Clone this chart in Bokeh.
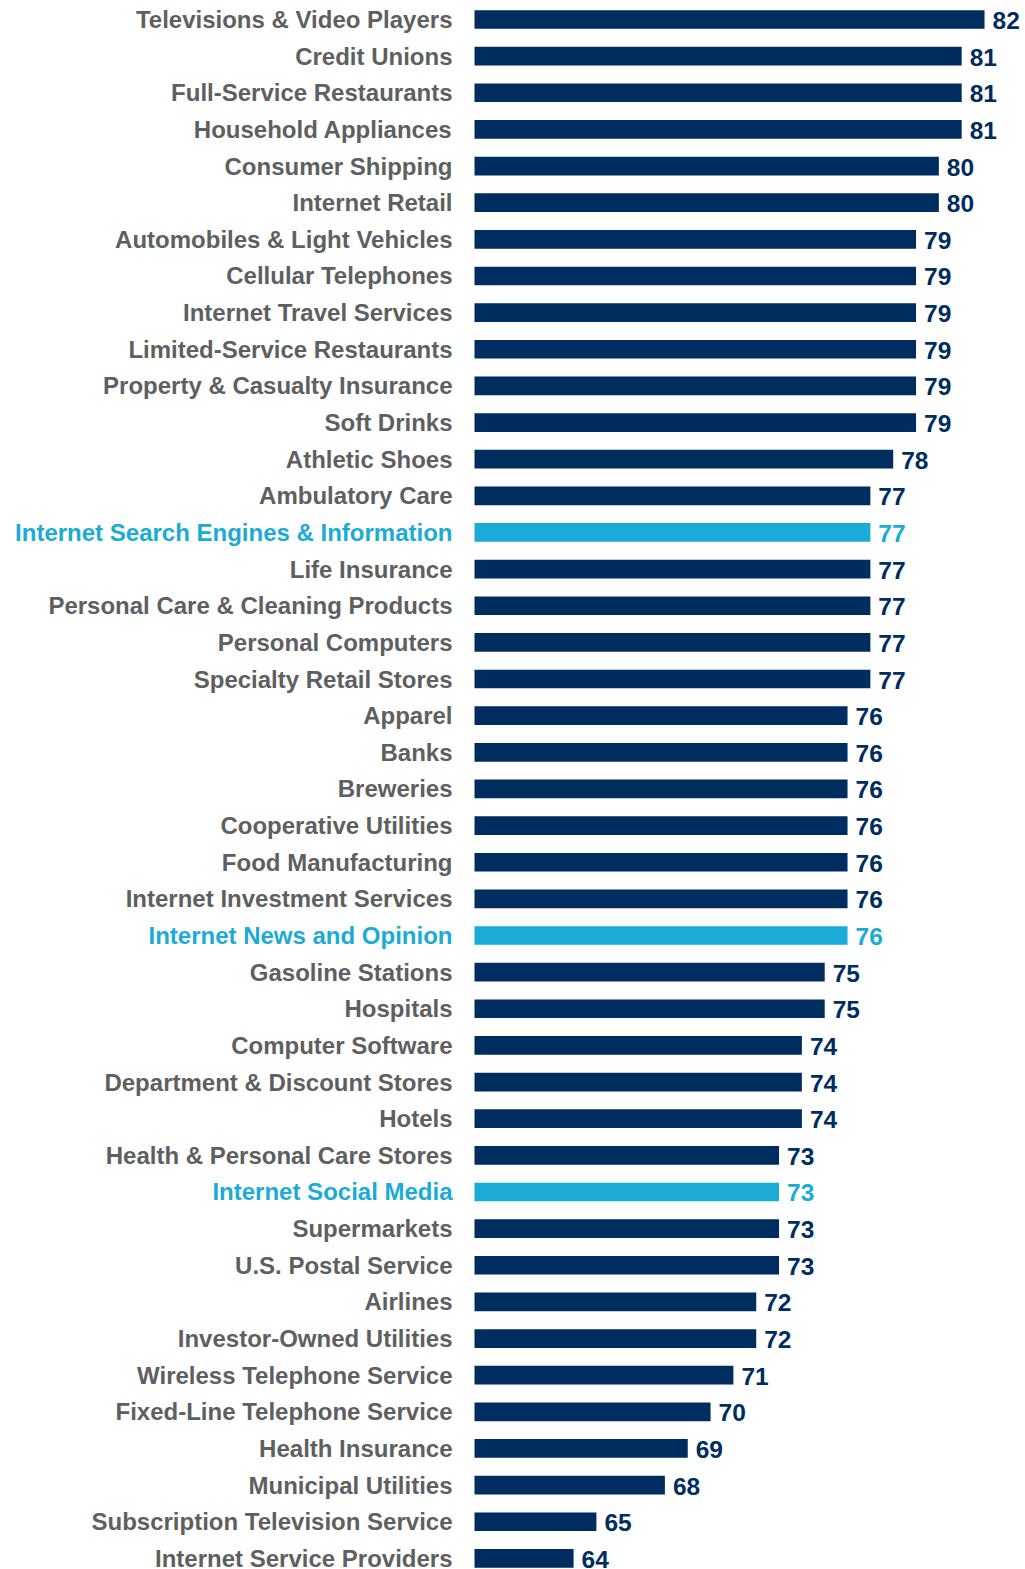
from bokeh.plotting import figure
from bokeh.models import ColumnDataSource, Range1d
from bokeh.core.properties import value
from bokeh.embed import file_html
from bokeh.resources import INLINE

categories = [
    "Televisions & Video Players", "Credit Unions", "Full-Service Restaurants",
    "Household Appliances", "Consumer Shipping", "Internet Retail",
    "Automobiles & Light Vehicles", "Cellular Telephones", "Internet Travel Services",
    "Limited-Service Restaurants", "Property & Casualty Insurance", "Soft Drinks",
    "Athletic Shoes", "Ambulatory Care", "Internet Search Engines & Information",
    "Life Insurance", "Personal Care & Cleaning Products", "Personal Computers",
    "Specialty Retail Stores", "Apparel", "Banks", "Breweries",
    "Cooperative Utilities", "Food Manufacturing", "Internet Investment Services",
    "Internet News and Opinion", "Gasoline Stations", "Hospitals",
    "Computer Software", "Department & Discount Stores", "Hotels",
    "Health & Personal Care Stores", "Internet Social Media", "Supermarkets",
    "U.S. Postal Service", "Airlines", "Investor-Owned Utilities",
    "Wireless Telephone Service", "Fixed-Line Telephone Service", "Health Insurance",
    "Municipal Utilities", "Subscription Television Service", "Internet Service Providers",
]
scores = [82, 81, 81, 81, 80, 80, 79, 79, 79, 79, 79, 79, 78, 77, 77, 77, 77, 77, 77,
          76, 76, 76, 76, 76, 76, 76, 75, 75, 74, 74, 74, 73, 73, 73, 73, 72, 72,
          71, 70, 69, 68, 65, 64]
highlighted = ["Internet Search Engines & Information", "Internet News and Opinion",
               "Internet Social Media"]

NAVY = "#002d5f"
CYAN = "#1aabd6"
GRAY = "#5e5f61"
BASE = 59.66  # axis origin of the bars

rows = list(range(len(categories)))
bar_colors = [CYAN if c in highlighted else NAVY for c in categories]
label_colors = [CYAN if c in highlighted else GRAY for c in categories]
value_colors = [CYAN if c in highlighted else NAVY for c in categories]

src = ColumnDataSource(dict(
    y=rows, cat=categories, val=scores, txt=[str(v) for v in scores],
    bar_color=bar_colors, label_color=label_colors, value_color=value_colors,
    base=[BASE] * len(rows),
))

W, H = 1025, 1569
px_per_unit = 22.83
row_px = 36.64
x_start = BASE - 474 / px_per_unit
x_end = x_start + W / px_per_unit
y_top = -19 / row_px
y_bottom = y_top + H / row_px

p = figure(width=W, height=H, output_backend="svg", toolbar_location=None,
           x_range=Range1d(x_start, x_end), y_range=Range1d(y_bottom, y_top),
           min_border=0, outline_line_color=None)
p.axis.visible = False
p.grid.visible = False
p.background_fill_color = "white"
p.border_fill_color = "white"

p.hbar(y="y", left="base", right="val", height=0.51, fill_color="bar_color",
       line_color=None, source=src)

p.text(x="base", y="y", text="cat", x_offset=-22, text_align="right",
       text_baseline="middle", text_color="label_color", text_font_size="24px",
       text_font=value("Liberation Sans"), text_font_style="bold", source=src)

p.text(x="val", y="y", text="txt", x_offset=8, y_offset=1, text_align="left",
       text_baseline="middle", text_color="value_color", text_font_size="24.5px",
       text_font=value("Liberation Sans"), text_font_style="bold", source=src)

open("out.html", "w").write(file_html(p, INLINE))
